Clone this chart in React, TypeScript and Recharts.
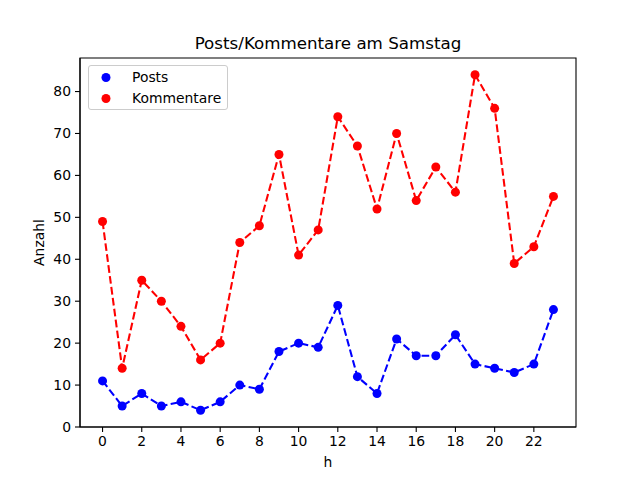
import { LineChart, Line, XAxis, YAxis, ReferenceArea } from 'recharts';

const hours = [0, 1, 2, 3, 4, 5, 6, 7, 8, 9, 10, 11, 12, 13, 14, 15, 16, 17, 18, 19, 20, 21, 22, 23];
const posts = [11, 5, 8, 5, 6, 4, 6, 10, 9, 18, 20, 19, 29, 12, 8, 21, 17, 17, 22, 15, 14, 13, 15, 28];
const kommentare = [49, 14, 35, 30, 24, 16, 20, 44, 48, 65, 41, 47, 74, 67, 52, 70, 54, 62, 56, 84, 76, 39, 43, 55];
const xTicks = [0, 2, 4, 6, 8, 10, 12, 14, 16, 18, 20, 22];
const yTicks = [0, 10, 20, 30, 40, 50, 60, 70, 80];

const chartData = hours.map((h, i) => ({ h, posts: posts[i], kommentare: kommentare[i] }));

const FONT = '"DejaVu Sans", sans-serif';
const X_DOMAIN = [-1.15, 24.15];
const Y_DOMAIN = [0, 88];

// matplotlib-like legend box in the upper left
function LegendBox() {
  const items = [
    { label: 'Posts', color: '#0000ff' },
    { label: 'Kommentare', color: '#ff0000' },
  ];
  return (
    <div
      style={{
        position: 'absolute',
        left: 88,
        top: 65,
        width: 140,
        height: 45,
        border: '1px solid #cccccc',
        borderRadius: 3,
        background: 'rgba(255,255,255,0.8)',
        fontFamily: FONT,
        fontSize: 13.9,
        boxSizing: 'border-box',
        paddingTop: 1,
        color: '#000',
      }}
    >
      {items.map((it) => (
        <div key={it.label} style={{ display: 'flex', alignItems: 'center', height: 21 }}>
          <svg width={43} height={21}>
            <circle cx={17} cy={10.5} r={4.5} fill={it.color} />
          </svg>
          <span style={{ lineHeight: '21px' }}>{it.label}</span>
        </div>
      ))}
    </div>
  );
}

export default function App() {
  return (
    <div style={{ position: 'absolute', left: 0, top: 0, width: 640, height: 480, background: '#fff' }}>
      <div
        style={{
          position: 'absolute',
          left: 80,
          width: 496,
          top: 33,
          textAlign: 'center',
          fontFamily: FONT,
          fontSize: 16.7,
          lineHeight: '20px',
          color: '#000',
        }}
      >
        Posts/Kommentare am Samstag
      </div>
      <LineChart
        width={640}
        height={480}
        data={chartData}
        margin={{ top: 58, right: 64, bottom: 0, left: 0 }}
        style={{ fontFamily: FONT }}
      >
        <XAxis
          dataKey="h"
          type="number"
          domain={X_DOMAIN}
          ticks={xTicks}
          allowDataOverflow
          height={53}
          tickSize={5}
          tickMargin={4}
          stroke="#000"
          strokeWidth={1.1}
          tick={{ fill: '#000', fontSize: 13.9 }}
          label={{
            content: () => (
              <text x={328} y={467} textAnchor="middle" fontSize={13.9} fill="#000" fontFamily={FONT}>
                h
              </text>
            ),
          }}
        />
        <YAxis
          type="number"
          domain={Y_DOMAIN}
          ticks={yTicks}
          allowDataOverflow
          width={80}
          tickSize={5}
          tickMargin={4}
          stroke="#000"
          strokeWidth={1.1}
          tick={{ fill: '#000', fontSize: 13.9 }}
          label={{
            content: () => (
              <text
                x={44}
                y={242.5}
                transform="rotate(-90 44 242.5)"
                textAnchor="middle"
                fontSize={13.9}
                fill="#000"
                fontFamily={FONT}
              >
                Anzahl
              </text>
            ),
          }}
        />
        <ReferenceArea
          x1={X_DOMAIN[0]}
          x2={X_DOMAIN[1]}
          y1={Y_DOMAIN[0]}
          y2={Y_DOMAIN[1]}
          fill="none"
          stroke="#000"
          strokeWidth={1.1}
          fillOpacity={0}
        />
        <Line
          dataKey="posts"
          name="Posts"
          type="linear"
          stroke="#0000ff"
          strokeWidth={2.08}
          strokeDasharray="7.7 3.3"
          dot={{ r: 4.5, fill: '#0000ff', stroke: '#0000ff', strokeWidth: 0, strokeDasharray: '0' }}
          activeDot={false}
          isAnimationActive={false}
        />
        <Line
          dataKey="kommentare"
          name="Kommentare"
          type="linear"
          stroke="#ff0000"
          strokeWidth={2.08}
          strokeDasharray="7.7 3.3"
          dot={{ r: 4.5, fill: '#ff0000', stroke: '#ff0000', strokeWidth: 0, strokeDasharray: '0' }}
          activeDot={false}
          isAnimationActive={false}
        />
      </LineChart>
      <LegendBox />
    </div>
  );
}
